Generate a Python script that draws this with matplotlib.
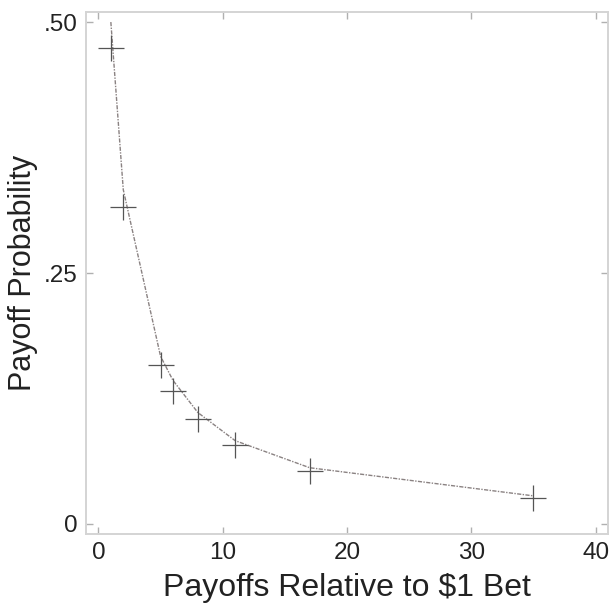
import matplotlib
matplotlib.use('Agg')
import matplotlib.pyplot as plt

# Datos
payoffs = [1, 2, 5, 6, 8, 11, 17, 35]
prob_obs = [0.474, 0.316, 0.158, 0.132, 0.105, 0.079, 0.053, 0.026]
prob_fair = [0.500, 0.333, 0.167, 0.143, 0.111, 0.083, 0.056, 0.028]

xticks = [0, 10, 20, 30, 40]
yticks = [0, 0.25, 0.50]
ytick_labels = ['0', '.25', '.50']

plt.rcParams['font.family'] = ['Liberation Sans', 'DejaVu Sans']

fig = plt.figure(figsize=(6.12, 6.04), dpi=100)
ax = fig.add_axes([0.1405, 0.1159, 0.853, 0.8642])

ax.plot(payoffs, prob_fair, color='#8a8282', lw=1.0, dashes=(3, 1, 1, 1))
ax.plot(payoffs, prob_obs, ls='none', marker='+', ms=19, mew=0.9, color='#555555')

ax.set_xlim(-1, 41)
ax.set_ylim(-0.01, 0.51)
ax.set_xticks(xticks)
ax.set_yticks(yticks)
ax.set_yticklabels(ytick_labels)

for s in ax.spines.values():
    s.set_color('#d4d4d4')
    s.set_linewidth(1.4)

ax.tick_params(direction='in', length=5, width=1, color='#b0b0b0',
               top=True, right=True, labelsize=17.5, labelcolor='#222222', pad=6)

ax.set_xlabel('Payoffs Relative to $1 Bet', fontsize=23, color='#222222', labelpad=6)
ax.set_ylabel('Payoff Probability', fontsize=22, color='#222222', labelpad=4)

fig.savefig('out.png', dpi=100)
